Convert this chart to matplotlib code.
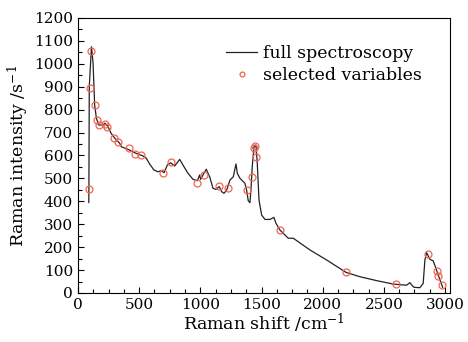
import matplotlib
matplotlib.use("Agg")
import matplotlib.pyplot as plt
from matplotlib.ticker import MultipleLocator

plt.rcParams['font.family'] = ['DejaVu Serif']
plt.rcParams['mathtext.fontset'] = 'dejavuserif'

# full spectrum
spec_x = [88, 89, 92, 110, 123, 136, 150, 169, 205, 220, 245, 270, 300, 340, 354, 408,
          476, 531, 558, 585, 620, 654, 681, 703, 730, 757, 790, 831, 866, 899, 940, 975,
          994, 1002, 1021, 1048, 1076, 1103, 1127, 1154, 1174, 1193, 1215, 1242, 1269,
          1291, 1302, 1324, 1364, 1378, 1391, 1405, 1413, 1424, 1438, 1454, 1465, 1479,
          1501, 1528, 1569, 1601, 1618, 1650, 1718, 1759, 1895, 2032, 2190, 2304, 2440,
          2576, 2685, 2712, 2734, 2745, 2794, 2821, 2835, 2849, 2876, 2903, 2930, 2958, 2980]
spec_y = [395, 460, 900, 1075, 1003, 820, 763, 733, 733, 741, 726, 697, 676, 654, 638, 627,
          609, 598, 588, 563, 537, 529, 534, 525, 558, 568, 554, 583, 551, 522, 496, 490,
          515, 496, 515, 540, 507, 457, 452, 464, 442, 435, 449, 493, 507,
          563, 522, 500, 479, 449, 403, 394, 449, 551, 638, 646, 566, 406,
          340, 321, 321, 330, 304, 275, 239, 239, 188, 144, 90, 71, 54,
          39, 34, 45, 31, 25, 23, 42, 144, 176, 147, 140, 100, 57, 25]

# selected variables
sel_x = [90, 95, 109, 136, 158, 169, 223, 239, 294, 327, 414, 468, 512, 694, 762, 972,
         1029, 1152, 1225, 1378, 1424, 1438, 1448, 1457, 1650, 2190, 2598, 2857, 2930,
         2938, 2971]
sel_y = [452, 893, 1057, 820, 755, 733, 737, 726, 675, 657, 631, 606, 601, 525, 573, 479,
         516, 467, 457, 449, 505, 632, 643, 592, 275, 90, 38, 171, 97, 75, 35]

fig = plt.figure(figsize=(4.68, 3.42), dpi=100)
ax = fig.add_axes([0.1667, 0.1433, 0.7948, 0.8041])

ax.plot(spec_x, spec_y, color='#222222', lw=0.9, label='full spectroscopy')
ax.plot(sel_x, sel_y, ls='none', marker='o', ms=5, mfc='none', mec='#f26450', mew=0.9,
        label='selected variables')

ax.set_xlim(0, 3040)
ax.set_ylim(0, 1200)
ax.xaxis.set_major_locator(MultipleLocator(500))
ax.xaxis.set_minor_locator(MultipleLocator(125))
ax.yaxis.set_major_locator(MultipleLocator(100))
ax.yaxis.set_minor_locator(MultipleLocator(50))
ax.tick_params(which='both', direction='in', top=False, right=False, labelsize=11)
ax.tick_params(which='major', length=4, width=0.8)
ax.tick_params(which='minor', length=3, width=0.8)

ax.set_xlabel('Raman shift /cm$^{-1}$', fontsize=12.5, labelpad=0)
ax.set_ylabel('Raman intensity /s$^{-1}$', fontsize=12.5, labelpad=2)

ax.legend(loc='upper right', bbox_to_anchor=(0.984, 0.985), frameon=False,
          fontsize=12.5, markerscale=0.7, handlelength=1.8, handletextpad=0.3,
          borderaxespad=0.9, labelspacing=0.3)

fig.savefig('out.png', dpi=100)
